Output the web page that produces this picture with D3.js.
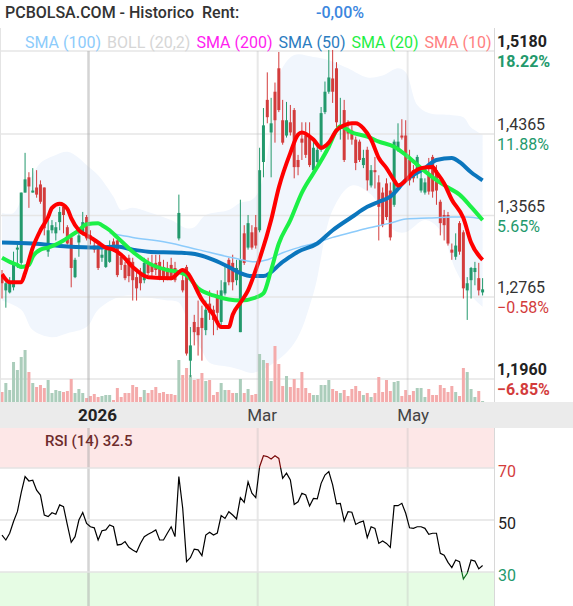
<!DOCTYPE html>
<meta charset="utf-8">
<style>
html, body { margin: 0; padding: 0; background: #fff; overflow: hidden; }
svg { display: block; font-family: Roboto, "Noto Sans", sans-serif; }
text { white-space: pre; }
</style>
<svg id="chart" width="573" height="606"></svg>
<script src="https://cdnjs.cloudflare.com/ajax/libs/d3/7.8.5/d3.min.js"></script>
<script>
// daily candles, oldest first
var open = [1.298,1.283,1.281,1.286,1.323,1.310,1.379,1.394,1.379,1.384,
  1.387,1.384,1.321,1.342,1.339,1.350,1.365,1.345,1.335,1.296,
  1.330,1.339,1.355,1.337,1.327,1.327,1.315,1.306,1.311,1.331,
  1.332,1.316,1.308,1.315,1.311,1.296,1.300,1.293,1.310,1.308,
  1.310,1.311,1.306,1.305,1.308,1.305,1.334,1.293,1.306,1.214,
  1.252,1.247,1.256,1.244,1.270,1.264,1.276,1.252,1.280,1.313,
  1.310,1.293,1.242,1.339,1.325,1.340,1.345,1.342,1.409,1.470,
  1.438,1.478,1.501,1.450,1.435,1.448,1.460,1.411,1.432,1.435,
  1.433,1.401,1.409,1.421,1.458,1.478,1.491,1.501,1.442,1.460,
  1.442,1.440,1.431,1.429,1.406,1.421,1.386,1.401,1.389,1.379,
  1.388,1.381,1.367,1.421,1.435,1.435,1.411,1.401,1.398,1.381,
  1.379,1.398,1.414,1.401,1.370,1.357,1.357,1.323,1.316,1.349,
  1.340,1.283,1.293,1.301,1.295,1.281];
var high = [1.303,1.291,1.296,1.321,1.328,1.379,1.418,1.399,1.403,1.401,
  1.391,1.384,1.357,1.352,1.350,1.365,1.367,1.347,1.335,1.315,
  1.345,1.360,1.357,1.342,1.332,1.329,1.325,1.324,1.332,1.334,
  1.334,1.318,1.311,1.318,1.315,1.301,1.305,1.315,1.315,1.318,
  1.318,1.318,1.313,1.311,1.315,1.311,1.377,1.298,1.308,1.247,
  1.259,1.273,1.268,1.273,1.283,1.268,1.283,1.293,1.308,1.315,
  1.318,1.313,1.372,1.347,1.357,1.347,1.357,1.423,1.462,1.497,
  1.472,1.487,1.517,1.470,1.468,1.465,1.462,1.416,1.448,1.448,
  1.448,1.429,1.426,1.463,1.488,1.519,1.519,1.507,1.472,1.470,
  1.450,1.445,1.434,1.431,1.421,1.424,1.406,1.414,1.396,1.384,
  1.393,1.389,1.431,1.447,1.451,1.450,1.421,1.406,1.416,1.401,
  1.393,1.413,1.416,1.406,1.372,1.362,1.360,1.329,1.339,1.351,
  1.342,1.296,1.306,1.311,1.310,1.295];
var low = [1.275,1.266,1.280,1.283,1.305,1.308,1.379,1.364,1.379,1.374,
  1.368,1.337,1.316,1.339,1.332,1.342,1.339,1.328,1.286,1.295,
  1.316,1.337,1.332,1.328,1.320,1.303,1.311,1.305,1.310,1.321,
  1.296,1.303,1.293,1.291,1.273,1.273,1.283,1.290,1.298,1.295,
  1.298,1.293,1.291,1.293,1.293,1.291,1.332,1.281,1.219,1.198,
  1.229,1.219,1.214,1.239,1.254,1.239,1.244,1.249,1.278,1.288,
  1.283,1.288,1.242,1.308,1.323,1.323,1.324,1.340,1.394,1.447,
  1.394,1.428,1.458,1.426,1.433,1.435,1.393,1.396,1.411,1.413,
  1.404,1.399,1.406,1.419,1.456,1.476,1.467,1.443,1.431,1.409,
  1.431,1.426,1.401,1.409,1.403,1.381,1.384,1.383,1.332,1.345,
  1.352,1.332,1.365,1.419,1.431,1.389,1.386,1.389,1.393,1.379,
  1.377,1.377,1.374,1.367,1.337,1.332,1.327,1.313,1.313,1.318,
  1.275,1.254,1.275,1.288,1.278,1.278];
var close = [1.290,1.290,1.291,1.308,1.325,1.379,1.392,1.385,1.381,1.377,
  1.370,1.344,1.342,1.347,1.345,1.360,1.357,1.329,1.305,1.313,
  1.337,1.350,1.334,1.334,1.323,1.305,1.318,1.323,1.325,1.323,
  1.298,1.308,1.295,1.297,1.293,1.285,1.290,1.310,1.300,1.301,
  1.303,1.295,1.295,1.295,1.295,1.293,1.359,1.283,1.221,1.229,
  1.242,1.239,1.246,1.264,1.261,1.254,1.261,1.283,1.291,1.291,
  1.291,1.305,1.313,1.310,1.349,1.325,1.327,1.401,1.445,1.453,
  1.447,1.450,1.460,1.428,1.450,1.438,1.404,1.404,1.428,1.416,
  1.406,1.423,1.421,1.457,1.478,1.492,1.478,1.448,1.445,1.411,
  1.437,1.431,1.408,1.411,1.413,1.391,1.401,1.399,1.365,1.347,
  1.355,1.335,1.429,1.429,1.433,1.391,1.391,1.393,1.414,1.393,
  1.389,1.380,1.380,1.381,1.349,1.347,1.329,1.320,1.327,1.321,
  1.285,1.290,1.305,1.305,1.283,1.284];
// volume, thousands
var volume = [250,475,300,1000,800,1125,1300,750,475,375,
  425,350,550,225,300,275,250,275,575,225,
  325,225,100,150,200,125,150,175,175,50,
  350,125,225,225,425,375,125,300,225,300,
  375,225,250,200,200,175,1050,675,850,675,
  550,575,725,525,550,175,250,475,300,300,
  225,225,575,225,325,175,200,1200,1050,975,
  525,1400,950,400,650,375,575,350,750,350,
  225,175,175,425,425,550,325,275,225,300,
  150,325,400,275,175,225,125,225,625,250,
  550,275,500,525,150,300,175,275,350,350,
  125,325,175,175,425,350,250,400,250,150,
  850,750,325,125,275,25];
var rsi = [44.2,42.3,44.9,49.4,53.2,60.5,66.7,65.0,65.3,61.5,
  59.6,51.9,51.3,52.8,52.2,55.8,55.1,48.1,41.4,43.6,
  50.0,52.9,48.7,47.4,47.0,42.3,45.9,46.2,48.1,47.4,
  40.4,40.6,41.7,39.5,38.5,37.6,41.0,43.6,44.5,45.3,
  46.2,42.3,42.3,44.9,47.4,43.6,66.7,54.5,34.0,35.5,
  38.8,38.5,36.3,44.2,45.3,44.2,45.0,51.7,50.6,53.2,
  51.9,50.4,58.6,56.8,64.7,60.3,58.6,70.5,74.7,74.4,
  73.5,74.7,73.7,66.0,68.0,65.4,56.0,57.0,60.3,59.6,
  55.4,58.3,58.1,64.1,67.3,68.6,63.5,56.2,56.4,49.6,
  53.2,53.0,48.3,49.1,49.6,43.2,47.4,46.8,41.0,41.9,
  41.0,39.5,55.5,55.5,56.4,52.6,47.0,46.8,47.4,47.4,
  46.8,44.5,44.9,44.9,37.2,36.5,33.7,31.7,34.6,34.0,
  27.3,29.5,34.6,34.2,31.2,32.5];

// indicator lines: [candle index, value]
var sma10 = [[0,1.299],[2,1.291],[5,1.291],[6,1.300],[8,1.325],[10,1.342],[12,1.355],[13,1.364],
  [15,1.368],[17,1.363],[18,1.354],[20,1.342],[22,1.337],[23,1.335],[25,1.330],[27,1.325],[29,1.323],
  [31,1.318],[34,1.306],[38,1.296],[44,1.295],[47,1.303],[48,1.301],[52,1.274],[55,1.259],[57,1.247],
  [59,1.247],[60,1.259],[62,1.271],[64,1.283],[66,1.303],[70,1.352],[72,1.384],[75,1.418],[77,1.436],
  [78,1.438],[81,1.431],[83,1.423],[85,1.428],[87,1.440],[89,1.445],[91,1.447],[92,1.447],[94,1.442],
  [96,1.431],[98,1.413],[100,1.403],[102,1.391],[103,1.386],[105,1.391],[107,1.399],[109,1.403],
  [112,1.404],[113,1.399],[115,1.388],[117,1.372],[120,1.354],[122,1.330],[125,1.313]];
var sma20 = [[0,1.315],[2,1.311],[4,1.308],[5,1.306],[7,1.308],[8,1.316],[10,1.323],[12,1.325],
  [14,1.328],[16,1.332],[18,1.337],[20,1.342],[22,1.348],[25,1.349],[26,1.347],[28,1.342],[30,1.335],
  [34,1.321],[38,1.310],[43,1.303],[46,1.301],[48,1.298],[51,1.285],[55,1.278],[59,1.274],[62,1.273],
  [66,1.276],[68,1.280],[70,1.303],[72,1.329],[75,1.352],[78,1.379],[82,1.404],[85,1.424],[87,1.440],
  [88,1.444],[91,1.438],[95,1.434],[98,1.429],[102,1.424],[105,1.416],[109,1.403],[112,1.394],
  [116,1.384],[119,1.377],[122,1.365],[125,1.352]];
var sma50 = [[0,1.330],[8,1.329],[17,1.326],[25,1.325],[30,1.326],[34,1.323],[38,1.321],[46,1.320],
  [51,1.318],[55,1.313],[59,1.306],[62,1.300],[65,1.297],[68,1.297],[73,1.311],[77,1.321],[82,1.329],
  [86,1.342],[91,1.355],[95,1.365],[98,1.370],[101,1.375],[105,1.391],[110,1.403],[113,1.411],
  [117,1.413],[119,1.409],[122,1.399],[125,1.391]];
var sma100 = [[28,1.339],[34,1.335],[43,1.330],[51,1.323],[60,1.315],[66,1.311],[69,1.313],[73,1.320],
  [78,1.326],[82,1.330],[86,1.335],[91,1.340],[95,1.344],[101,1.349],[105,1.353],[111,1.354],
  [117,1.355],[121,1.355],[125,1.353]];
var bollUp = [[0,1.359],[3,1.359],[6,1.382],[10,1.408],[14,1.416],[17,1.419],[20,1.413],[22,1.406],
  [25,1.396],[29,1.375],[31,1.362],[34,1.364],[38,1.360],[44,1.352],[48,1.344],[50,1.345],[53,1.357],
  [59,1.362],[62,1.369],[65,1.372],[67,1.382],[70,1.440],[72,1.494],[76,1.514],[81,1.512],[85,1.509],
  [90,1.501],[95,1.492],[99,1.494],[103,1.501],[105,1.497],[108,1.465],[111,1.457],[117,1.455],
  [120,1.453],[122,1.443],[125,1.436]];
var bollLow = [[0,1.273],[5,1.264],[8,1.244],[13,1.237],[17,1.241],[22,1.247],[25,1.264],[30,1.276],
  [34,1.278],[38,1.276],[43,1.273],[46,1.271],[49,1.244],[52,1.224],[54,1.212],[59,1.208],[62,1.205],
  [65,1.202],[70,1.210],[76,1.231],[81,1.280],[86,1.362],[91,1.386],[96,1.377],[102,1.342],[105,1.340],
  [110,1.352],[114,1.342],[118,1.303],[122,1.278],[125,1.267]];

var priceTicks = [1.518, 1.4365, 1.3565, 1.2765, 1.196];
var rsiTicks = [70, 50, 30];
var monthIdx = [23, 67, 106];
var monthLabels = ["2026", "Mar", "May"];
var legendNames = ["SMA (100)", "BOLL (20,2)", "SMA (200)", "SMA (50)", "SMA (20)", "SMA (10)", "SMA (5)"];
var legendColors = ["#8ccbfb", "#d6d6d6", "#ff1ef0", "#2b7cc0", "#1fee45", "#ff7f7f", "#ff2a2a"];

var svg = d3.select("#chart");
var plotRight = 494;
var base = close[close.length - 1];

var x = d3.scaleLinear().domain([0, 125]).range([2, 482.6]);
var y = d3.scaleLinear().domain([1.2765, 1.4365]).range([297, 134]);
var vy = d3.scaleLinear().domain([0, 1500]).range([402, 342]);
var ry = d3.scaleLinear().domain([30, 70]).range([572, 468]);

var defs = svg.append("defs");
defs.append("clipPath").attr("id", "main-clip")
  .append("rect").attr("x", 0).attr("y", 0).attr("width", plotRight).attr("height", 402);
defs.append("clipPath").attr("id", "rsi-hi")
  .append("rect").attr("x", 0).attr("y", 428).attr("width", plotRight).attr("height", ry(70) - 428);
defs.append("clipPath").attr("id", "rsi-mid")
  .append("rect").attr("x", 0).attr("y", ry(70)).attr("width", plotRight).attr("height", ry(30) - ry(70));
defs.append("clipPath").attr("id", "rsi-lo")
  .append("rect").attr("x", 0).attr("y", ry(30)).attr("width", plotRight).attr("height", 606 - ry(30));

// RSI zone backgrounds first, so month lines sit on top
svg.append("rect").attr("x", 0).attr("y", 428).attr("width", plotRight)
  .attr("height", ry(70) - 428).attr("fill", "#fde7e7");
svg.append("rect").attr("x", 0).attr("y", ry(30)).attr("width", plotRight)
  .attr("height", 606 - ry(30)).attr("fill", "#e6fce4");

// title
svg.append("text").attr("x", 5).attr("y", 18)
  .style("font-size", "16px").style("font-weight", 500).attr("fill", "#333")
  .text("PCBOLSA.COM - Historico  Rent:");
svg.append("text").attr("x", 316).attr("y", 18)
  .style("font-size", "16px").style("font-weight", 500).attr("fill", "#3b86de")
  .text("-0,00%");

var main = svg.append("g").attr("clip-path", "url(#main-clip)");

// bollinger band
var bl = d3.line().x(function(d) { return x(d[0]); }).y(function(d) { return y(d[1]); })
  .curve(d3.curveCatmullRom);
main.append("path")
  .attr("d", bl(bollUp) + "L" + bl(bollLow.slice().reverse()).slice(1) + "Z")
  .attr("fill", "#f1f6fd");

// grid
main.selectAll(".hgrid").data(priceTicks).enter().append("line")
  .attr("x1", 0).attr("x2", plotRight)
  .attr("y1", function(d) { return y(d); }).attr("y2", function(d) { return y(d); })
  .attr("stroke", "#e6e6e6").attr("stroke-width", 1.5);

// volume
main.selectAll(".vol").data(volume).enter().append("rect")
  .attr("x", function(d, i) { return x(i) - 1.5; })
  .attr("width", 3)
  .attr("y", function(d) { return vy(d); })
  .attr("height", function(d) { return 402 - vy(d); })
  .attr("fill", function(d, i) { return close[i] >= open[i] ? "#abcdbb" : "#f4abab"; });

// month lines across both panels
svg.selectAll(".mline").data(monthIdx).enter().append("line")
  .attr("x1", function(d) { return x(d - 0.5); }).attr("x2", function(d) { return x(d - 0.5); })
  .attr("y1", 51).attr("y2", 606)
  .attr("stroke", function(d, i) { return i == 0 ? "rgba(170,170,170,0.5)" : "rgba(190,190,190,0.35)"; })
  .attr("stroke-width", function(d, i) { return i == 0 ? 2.5 : 2; });
svg.append("line").attr("x1", 0.5).attr("x2", 0.5).attr("y1", 28).attr("y2", 402)
  .attr("stroke", "#e4e4e4");

// candles
var idx = d3.range(open.length);
var cg = main.append("g");
cg.selectAll(".wick").data(idx).enter().append("line")
  .attr("x1", function(i) { return x(i); }).attr("x2", function(i) { return x(i); })
  .attr("y1", function(i) { return y(high[i]); }).attr("y2", function(i) { return y(low[i]); })
  .attr("stroke", function(i) { return close[i] >= open[i] ? "#23996c" : "#d33c3c"; })
  .attr("stroke-width", 1);
cg.selectAll(".body").data(idx).enter().append("rect")
  .attr("x", function(i) { return x(i) - 1.5; })
  .attr("width", 3)
  .attr("y", function(i) { return y(Math.max(open[i], close[i])); })
  .attr("height", function(i) { return Math.max(1, Math.abs(y(open[i]) - y(close[i]))); })
  .attr("fill", function(i) { return close[i] >= open[i] ? "#23996c" : "#d33c3c"; });

// moving averages
var ml = d3.line().x(function(d) { return x(d[0]); }).y(function(d) { return y(d[1]); })
  .curve(d3.curveMonotoneX);
[[sma100, "#8ccbfb", 1.5], [sma50, "#0b76bd", 4], [sma20, "#1cf046", 4], [sma10, "#ff0000", 4]]
  .forEach(function(s) {
    main.append("path").attr("d", ml(s[0])).attr("fill", "none")
      .attr("stroke", s[1]).attr("stroke-width", s[2]);
  });

// legend, cut off at the plot edge like the original
var lg = svg.append("svg").attr("x", 0).attr("y", 0).attr("width", plotRight).attr("height", 60)
  .style("overflow", "hidden");
var lx = 25;
legendNames.forEach(function(n, i) {
  var t = lg.append("text").attr("x", lx).attr("y", 48)
    .style("font-size", "16px").attr("fill", legendColors[i]).text(n);
  lx += t.node().getComputedTextLength() + 6;
});

// price axis
svg.append("line").attr("x1", plotRight + 0.5).attr("x2", plotRight + 0.5)
  .attr("y1", 28).attr("y2", 606).attr("stroke", "#d8d8d8");
var fmtP = function(v) { return d3.format(".4f")(v).replace(".", ","); };
priceTicks.forEach(function(p, i) {
  var bold = (i == 0 || i == priceTicks.length - 1);
  var pct = (p / base - 1) * 100;
  svg.append("text").attr("x", 497).attr("y", y(p) - 4)
    .style("font-size", "16px").style("font-weight", bold ? 700 : 400)
    .attr("fill", bold ? "#222" : "#333").text(fmtP(p));
  svg.append("text").attr("x", 497).attr("y", y(p) + 16)
    .style("font-size", "16px").style("font-weight", bold ? 700 : 400)
    .attr("fill", pct >= 0 ? "#23996c" : "#d33c3c")
    .text(d3.format(".2f")(pct) + "%");
});

// x axis band
svg.append("rect").attr("x", 0).attr("y", 402).attr("width", 573).attr("height", 26)
  .attr("fill", "#ebebeb");
monthIdx.forEach(function(m, i) {
  svg.append("text").attr("x", x(m - 0.5) - 10.5).attr("y", 421)
    .style("font-size", "17px").style("font-weight", i == 0 ? 700 : 400)
    .attr("fill", i == 0 ? "#222" : "#444").text(monthLabels[i]);
});

// RSI panel
svg.selectAll(".rgrid").data(rsiTicks).enter().append("line")
  .attr("x1", 0).attr("x2", plotRight)
  .attr("y1", function(d) { return ry(d); }).attr("y2", function(d) { return ry(d); })
  .attr("stroke", "#e3e3e3").attr("stroke-width", 1.5);

var rl = d3.line().x(function(d, i) { return x(i); }).y(function(d) { return ry(d); });
[["rsi-hi", "#7a0a0a"], ["rsi-mid", "#000"], ["rsi-lo", "#0a6a1a"]].forEach(function(c) {
  svg.append("path").attr("d", rl(rsi)).attr("fill", "none")
    .attr("stroke", c[1]).attr("stroke-width", 1.2)
    .attr("clip-path", "url(#" + c[0] + ")");
});

svg.append("text").attr("x", 45).attr("y", 446)
  .style("font-size", "15px").style("font-weight", 500).attr("fill", "#6e2c2c")
  .text("RSI (14) " + d3.format(".1f")(rsi[rsi.length - 1]));

var rsiColors = { 70: "#d33c3c", 50: "#222", 30: "#23996c" };
rsiTicks.forEach(function(t) {
  svg.append("text").attr("x", 498).attr("y", ry(t) + 8.5)
    .style("font-size", "16px").attr("fill", rsiColors[t]).text(t);
});
</script>
